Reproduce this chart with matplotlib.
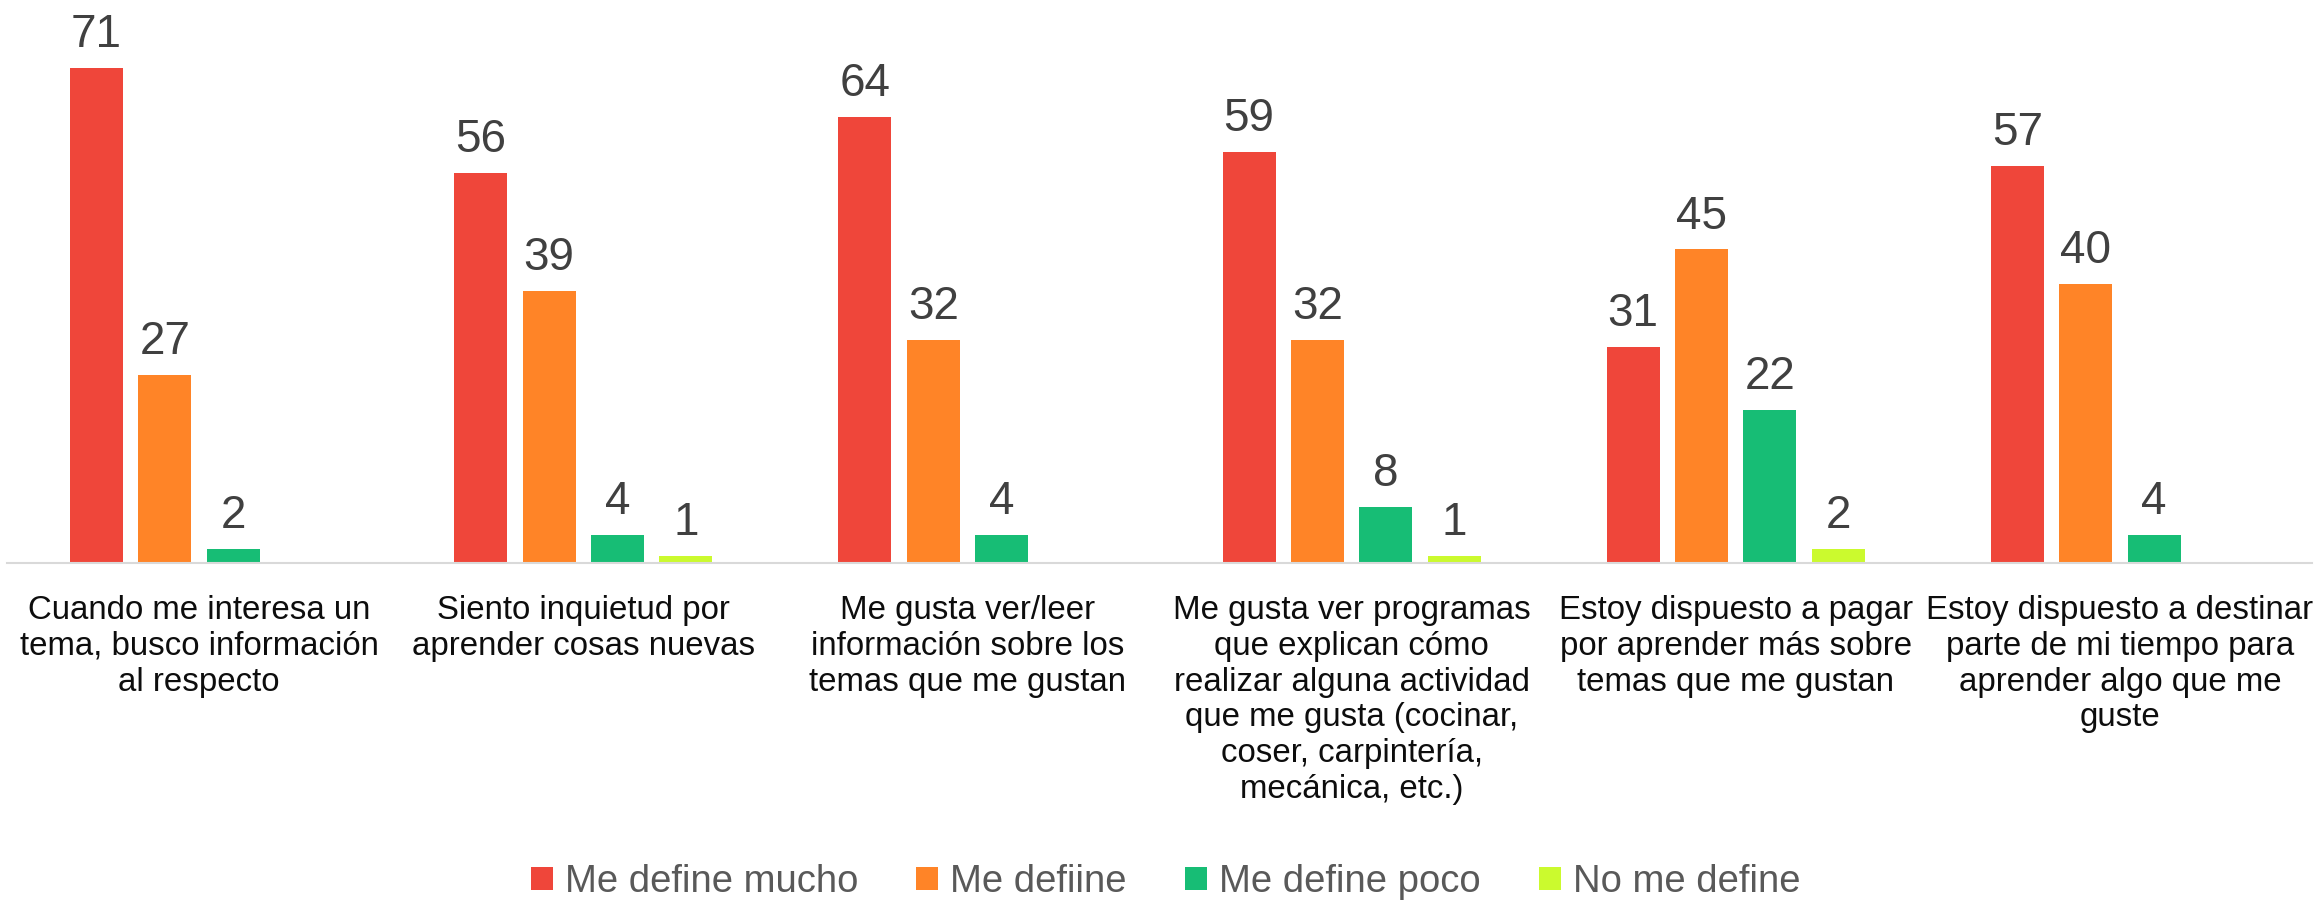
import matplotlib
matplotlib.use("Agg")
import matplotlib.pyplot as plt
from matplotlib.patches import Patch
import numpy as np

categories = [
    "Cuando me interesa un\ntema, busco información\nal respecto",
    "Siento inquietud por\naprender cosas nuevas",
    "Me gusta ver/leer\ninformación sobre los\ntemas que me gustan",
    "Me gusta ver programas\nque explican cómo\nrealizar alguna actividad\nque me gusta (cocinar,\ncoser, carpintería,\nmecánica, etc.)",
    "Estoy dispuesto a pagar\npor aprender más sobre\ntemas que me gustan",
    "Estoy dispuesto a destinar\nparte de mi tiempo para\naprender algo que me\nguste",
]
series_names = ["Me define mucho", "Me defiine", "Me define poco", "No me define"]
me_define_mucho = [71, 56, 64, 59, 31, 57]
me_define = [27, 39, 32, 32, 45, 40]
me_define_poco = [2, 4, 4, 8, 22, 4]
no_me_define = [0, 1, 0, 1, 2, 0]

series = [me_define_mucho, me_define, me_define_poco, no_me_define]
colors = ["#EF463A", "#FF8427", "#17BD75", "#CBFA2E"]

fig = plt.figure(figsize=(23.18, 9.01), dpi=100)
ax = fig.add_axes([7 / 2318, 0.3751, 2305 / 2318, 0.6249])

x = np.arange(len(categories))
step = 0.178
width = 0.138
num_font = ["Liberation Sans Narrow", "Liberation Sans", "DejaVu Sans"]
for i, (vals, col) in enumerate(zip(series, colors)):
    pos = x + (i - 1.5) * step
    ax.bar(pos, vals, width=width, color=col, zorder=2)
    for p, v in zip(pos, vals):
        if v > 0:
            ax.annotate(str(v), (p, v), xytext=(0, 15), textcoords="offset points",
                        ha="center", va="baseline", fontsize=33, color="#404040",
                        family=num_font)

ax.set_xlim(-0.5, len(categories) - 0.5)
ax.set_ylim(0, 80.8)
ax.set_yticks([])
ax.set_xticks(x)
ax.set_xticklabels(categories, fontsize=23.8, family=["Liberation Sans", "DejaVu Sans"],
                   color="#0d0d0d", linespacing=1.2, ha="center", multialignment="center")
ax.tick_params(axis="x", length=0, pad=23)
for s in ["top", "left", "right"]:
    ax.spines[s].set_visible(False)
ax.spines["bottom"].set_color("#D9D9D9")
ax.spines["bottom"].set_linewidth(1.5)

handles = [Patch(facecolor=c, edgecolor="none") for c in colors]
leg = fig.legend(handles, series_names, loc="center", bbox_to_anchor=(0.5028, 0.021),
                 ncol=4, frameon=False, handlelength=0.576, handleheight=0.576,
                 handletextpad=0.314, columnspacing=1.52,
                 prop={"family": ["Liberation Sans", "DejaVu Sans"], "size": 27.5})
for t in leg.get_texts():
    t.set_color("#595959")

fig.savefig("out.png", dpi=100)
